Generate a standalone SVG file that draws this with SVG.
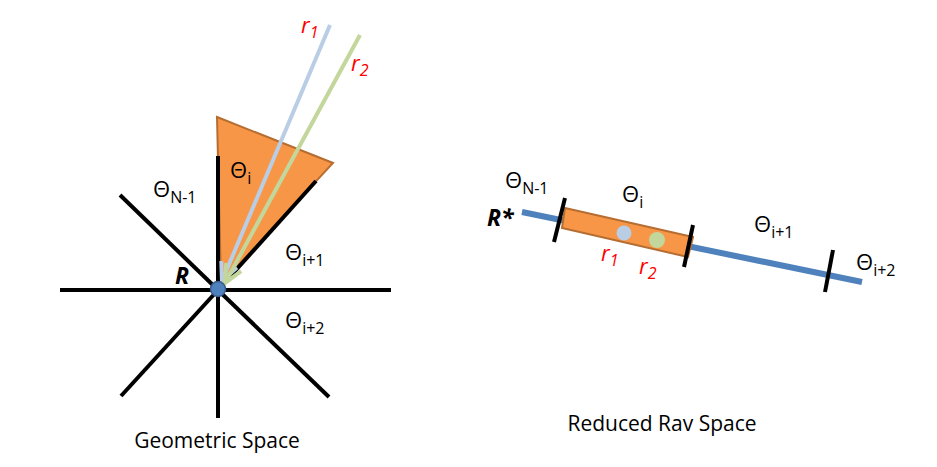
<svg xmlns="http://www.w3.org/2000/svg" width="937" height="467" viewBox="0 0 937 467">
<defs>
<style>
.ax{stroke:#000;stroke-width:4;fill:none}
.t{font-family:"Open Sans","Liberation Sans",sans-serif;font-size:22px;fill:#000}
.s{font-size:16px}
.b{font-weight:bold;font-style:italic;font-size:23px}
.r{font-family:"Open Sans","Liberation Sans",sans-serif;font-size:22px;fill:#FF0000;font-style:italic}
.cap{font-family:"Open Sans","Liberation Sans",sans-serif;font-size:21px;fill:#000;text-anchor:middle}
.rb{stroke:#B9CDE5;stroke-width:4;fill:none}
.rg{stroke:#C3D69B;stroke-width:4;fill:none}
</style>
</defs>
<rect width="937" height="467" fill="#fff"/>
<g id="geometric">
<polygon id="sector" points="217,117 333,163 221,284" fill="#F79646" stroke="#B66D31" stroke-width="2"/>
<g id="axes">
<line class="ax" x1="60" y1="290" x2="391" y2="290"/>
<line class="ax" x1="218" y1="156" x2="218" y2="418"/>
<line class="ax" x1="120" y1="195" x2="218" y2="290"/>
<line class="ax" x1="121" y1="396" x2="218" y2="290"/>
<line class="ax" x1="329" y1="397" x2="218" y2="290"/>
<line class="ax" x1="316" y1="181" x2="218" y2="290"/>
</g>
<g id="rays">
<line class="rb" x1="330" y1="25" x2="222" y2="281"/>
<polyline class="rb" points="221.3,261 222,281 236.9,267.6"/>
<line class="rg" x1="360" y1="35" x2="225" y2="283"/>
<polyline class="rg" points="226.2,263 225,283 241.1,271.1"/>
</g>
<circle id="R" cx="218" cy="289" r="7.5" fill="#4F81BD" stroke="#385D8A" stroke-width="1.5"/>
<text class="t b" x="175" y="284">R</text>
<text class="t" x="230" y="178">Θ<tspan class="s" dy="6">i</tspan></text>
<text class="t" x="153" y="197">Θ<tspan class="s" dy="6">N-1</tspan></text>
<text class="t" x="285" y="260">Θ<tspan class="s" dy="6">i+1</tspan></text>
<text class="t" x="285" y="328">Θ<tspan class="s" dy="6">i+2</tspan></text>
<text class="r" x="301" y="33">r<tspan class="s" dy="5">1</tspan></text>
<text class="r" x="351" y="71">r<tspan class="s" dy="5">2</tspan></text>
<text class="cap" x="217" y="448">Geometric Space</text>
</g>
<g id="reduced">
<line x1="522" y1="212" x2="862" y2="282" stroke="#4F81BD" stroke-width="6"/>
<polygon id="bin" points="565,208 693,237 688,257 562,228" fill="#F79646" stroke="#B66D31" stroke-width="2"/>
<g id="ticks">
<line class="ax" x1="565" y1="198" x2="554" y2="242"/>
<line class="ax" x1="693" y1="225" x2="684" y2="267"/>
<line class="ax" x1="833" y1="250" x2="825" y2="292"/>
</g>
<circle cx="624" cy="233" r="7.5" fill="#B9CDE5"/>
<circle cx="657" cy="240" r="8" fill="#C3D69B"/>
<text class="t b" x="487" y="226">R*</text>
<text class="t" x="505" y="188">Θ<tspan class="s" dy="6">N-1</tspan></text>
<text class="t" x="622" y="202">Θ<tspan class="s" dy="6">i</tspan></text>
<text class="t" x="754" y="232">Θ<tspan class="s" dy="6">i+1</tspan></text>
<text class="t" x="856" y="270">Θ<tspan class="s" dy="6">i+2</tspan></text>
<text class="r" x="601" y="261">r<tspan class="s" dy="5">1</tspan></text>
<text class="r" x="639" y="274">r<tspan class="s" dy="5">2</tspan></text>
<text class="cap" x="662" y="431">Reduced Rav Space</text>
</g>
</svg>
